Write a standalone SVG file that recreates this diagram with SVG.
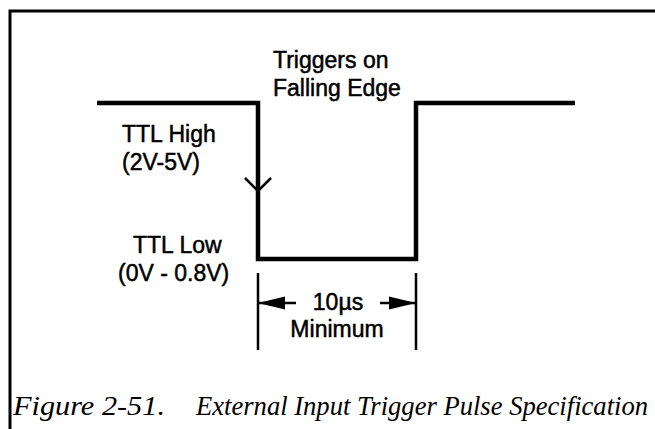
<svg xmlns="http://www.w3.org/2000/svg" width="655" height="429" viewBox="0 0 655 429">
<style>
.lbl{font-family:"Liberation Sans",Arial,Helvetica,sans-serif;font-size:23px;fill:#000;stroke:#000;stroke-width:0.5}
.cap{font-family:"Liberation Serif","Times New Roman",serif;font-style:italic;font-size:27px;fill:#000}
.wave{fill:none;stroke:#000;stroke-width:4.5;stroke-linejoin:miter}
.thin{fill:none;stroke:#000;stroke-width:2.5}
</style>
<g id="frame">
<path d="M10,429 V11 H655" fill="none" stroke="#000" stroke-width="3"/>
</g>
<g id="pulse">
<path class="wave" d="M97,103 H258 V259 H416 V103 H575"/>
</g>
<g id="connectors">
<polyline class="thin" points="245,178 258,191 271,178" stroke-width="3"/>
<line class="thin" x1="258" y1="273" x2="258" y2="350"/>
<line class="thin" x1="416" y1="273" x2="416" y2="350"/>
<line class="thin" x1="258" y1="303" x2="296" y2="303" stroke-width="3"/>
<polygon points="258,303 285,296.5 285,309.5" fill="#000"/>
<line class="thin" x1="380" y1="303" x2="416" y2="303" stroke-width="3"/>
<polygon points="416,303 389,296.5 389,309.5" fill="#000"/>
</g>
<g id="trigger-label">
<text class="lbl" x="273" y="68">Triggers on</text>
<text class="lbl" x="273" y="96">Falling Edge</text>
</g>
<g id="high-label">
<text class="lbl" x="122" y="142">TTL High</text>
<text class="lbl" x="122" y="170">(2V-5V)</text>
</g>
<g id="low-label">
<text class="lbl" x="133" y="253">TTL Low</text>
<text class="lbl" x="118" y="281">(0V - 0.8V)</text>
</g>
<g id="width-label">
<text class="lbl" x="338" y="310" text-anchor="middle">10µs</text>
<text class="lbl" x="337" y="337" text-anchor="middle">Minimum</text>
</g>
<g id="caption">
<text class="cap" x="13" y="415" textLength="152" lengthAdjust="spacingAndGlyphs">Figure 2-51.</text>
<text class="cap" x="196" y="415" textLength="452" lengthAdjust="spacingAndGlyphs">External Input Trigger Pulse Specification</text>
</g>
</svg>
